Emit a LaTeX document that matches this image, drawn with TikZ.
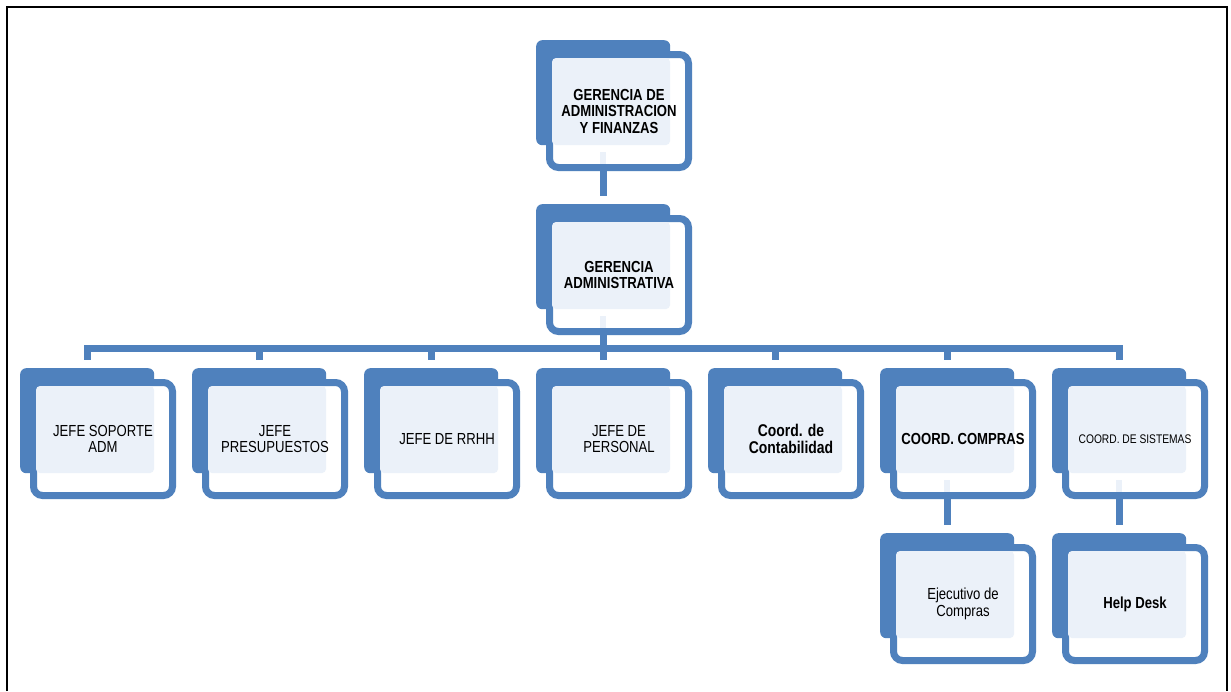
\documentclass[tikz,border=0pt]{standalone}
\usepackage{fontspec}
\setmainfont{Liberation Sans}[FakeStretch=0.82]
\usetikzlibrary{calc}

\definecolor{orgblue}{RGB}{79,129,189}
\definecolor{orglight}{RGB}{235,241,249}

\tikzset{
  backbox/.style={rectangle, anchor=north west, fill=orgblue, draw=none,
    rounded corners=6pt, inner sep=0pt, minimum width=134pt, minimum height=105pt},
  frontbox/.style={rectangle, anchor=north west, fill=white, draw=orgblue,
    line width=7pt, outer sep=3.5pt, rounded corners=9pt, inner sep=0pt,
    minimum width=139pt, minimum height=113pt},
  lightfill/.style={fill=orglight},
  boxtext/.style={align=center, inner sep=0pt, text=black},
  conn/.style={draw=orgblue, line width=7pt},
  regular/.style={font=\fontsize{16}{16.5}\selectfont},
  heavy/.style={font=\bfseries\fontsize{16}{16.5}\selectfont},
}

% #1 name, #2 left of the back panel, #3 top of the back panel, #4 text style, #5 text
\newcommand\orgunit[5]{%
  \node[backbox] (#1b) at (#2,#3) {};
  \node[frontbox] (#1) at (#2+10,#3+11) {};
  \fill[lightfill, rounded corners=4pt] (#2+16,#3+18) rectangle (#2+134,#3+105);
  \node[boxtext, #4] (#1t) at (#1.center) {#5};
}
% light stub under a box that has children
\newcommand\orgstub[2]{%
  \fill[lightfill] (#1+64,#2+112) rectangle (#1+70,#2+124);
}

\begin{document}
\begin{tikzpicture}[x=1pt, y=-1pt]
  \useasboundingbox (0,0) rectangle (1231,691);
  \fill[white] (0,0) rectangle (1231,691);

  % outer frame
  \draw[line width=2pt, black] (7,691) -- (7,7) -- (1227,7) -- (1227,691);

  % boxes
  \orgunit{gaf}{536}{40}{heavy}{GERENCIA DE\\ADMINISTRACION\\Y FINANZAS}
  \orgstub{536}{40}
  \orgunit{gadm}{536}{204}{heavy}{GERENCIA\\ADMINISTRATIVA}
  \orgstub{536}{204}

  \orgunit{jsa}{20}{368}{regular}{JEFE SOPORTE\\ADM}
  \orgunit{jpr}{192}{368}{regular}{JEFE\\PRESUPUESTOS}
  \orgunit{jrh}{364}{368}{regular}{JEFE DE RRHH}
  \orgunit{jpe}{536}{368}{regular}{JEFE DE\\PERSONAL}
  \orgunit{cco}{708}{368}{font=\bfseries\fontsize{17}{17}\selectfont}{Coord. de\\Contabilidad}
  \orgunit{ccm}{880}{368}{heavy}{COORD. COMPRAS}
  \orgstub{880}{368}
  \orgunit{csi}{1052}{368}{font=\fontsize{12.5}{14}\selectfont}{COORD. DE SISTEMAS}
  \orgstub{1052}{368}

  \orgunit{ejc}{880}{533}{regular}{Ejecutivo de\\Compras}
  \orgunit{hdk}{1052}{533}{heavy}{Help Desk}

  % connectors
  \coordinate (bar) at (604,348.5);
  \draw[conn] (gafb.center |- gaf.south) -- ($(gadmb.north)+(0,-8)$);
  \draw[conn] (gadmb.center |- gadm.south) -- (gadmb.center |- bar);
  \foreach \c in {jsa,jpr,jrh,jpe,cco,ccm,csi}{
    \draw[conn] (gadmb.center |- bar) -| ($(\c b.north)+(0,-8)$);
  }
  \draw[conn] (ccmb.center |- ccm.south) -- ($(ejcb.north)+(0,-8)$);
  \draw[conn] (csib.center |- csi.south) -- ($(hdkb.north)+(0,-8)$);
\end{tikzpicture}
\end{document}
